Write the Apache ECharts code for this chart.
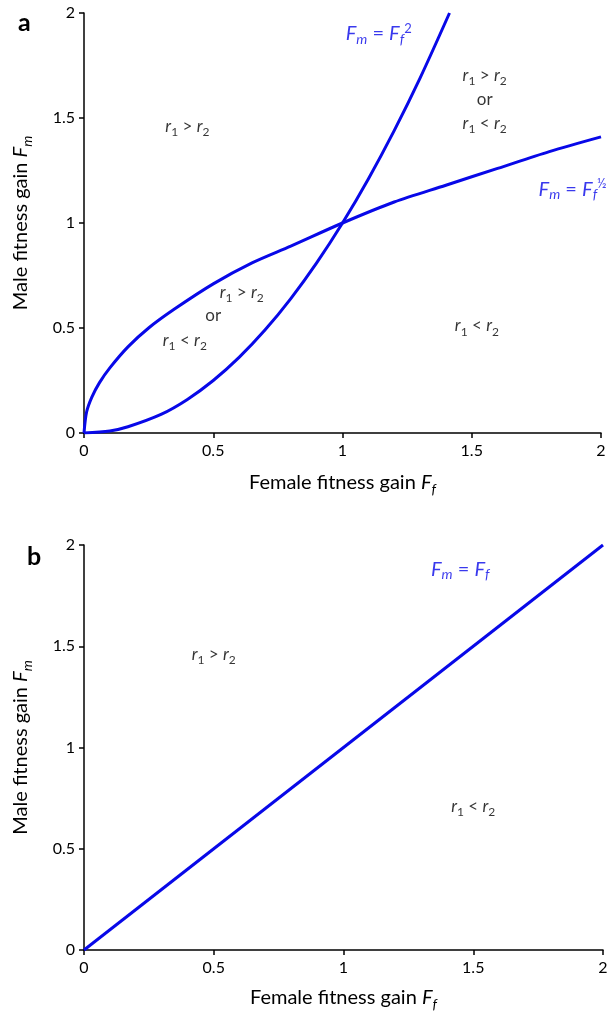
<!DOCTYPE html>
<html lang="en">
<head>
    <meta charset="UTF-8">
    <title>Fitness gain</title>
    <script src="https://cdn.jsdelivr.net/npm/echarts@6/dist/echarts.min.js"></script>
    <style>
        html, body { margin: 0; padding: 0; background: #fff; }
        #main { width: 615px; height: 1012px; }
    </style>
</head>
<body>
<div id="main"></div>
<script>
    // values
    let ticks = [0, 0.5, 1, 1.5, 2];

    // panel a: Fm = Ff^2
    let sqX = [0, 0.1, 0.17, 0.3, 0.4, 0.5, 0.6, 0.7, 0.8, 0.9, 1, 1.1, 1.2, 1.3, 1.414];
    let sqY = [0, 0.01, 0.03, 0.09, 0.16, 0.25, 0.36, 0.49, 0.64, 0.81, 1, 1.21, 1.44, 1.69, 2];

    // panel a: Fm = Ff^1/2
    let rtX = [0, 0.01, 0.03, 0.06, 0.1, 0.17, 0.25, 0.35, 0.5, 0.65, 0.8, 1, 1.2, 1.4, 1.6, 1.8, 2];
    let rtY = [0, 0.1, 0.17, 0.24, 0.31, 0.41, 0.5, 0.59, 0.71, 0.81, 0.89, 1, 1.1, 1.18, 1.26, 1.34, 1.41];

    // panel b: Fm = Ff
    let lnX = [0, 2];
    let lnY = [0, 2];

    // text pieces
    let gt = '{i|r}{s|1}{t| > }{i|r}{s|2}';
    let lt = '{i|r}{s|1}{t| < }{i|r}{s|2}';

    // annotations (data coordinates)
    let notesA = [
        [1.14, 1.9, '{fi|F}{fs|m}{ft| = }{fi|F}{fs|f}{fp|2}', 'blue'],
        [0.4, 1.46, gt, 'black'],
        [1.55, 1.59, gt + '\n{t|or}\n' + lt, 'black'],
        [1.89, 1.16, '{fi|F}{fs|m}{ft| = }{fi|F}{fs|f}{fp|½}', 'blue'],
        [0.61, 0.67, gt, 'black'],
        [0.5, 0.56, '{t|or}', 'black'],
        [0.39, 0.44, lt, 'black'],
        [1.52, 0.51, lt, 'black']
    ];
    let notesB = [
        [1.45, 1.88, '{fi|F}{fs|m}{ft| = }{fi|F}{fs|f}', 'blue'],
        [0.5, 1.46, gt, 'black'],
        [1.5, 0.71, lt, 'black']
    ];

    let font = 'Lato, "Open Sans", sans-serif';
    let blue = '#0808e8';

    let rich = {
        t: { fontSize: 17, fontFamily: font, color: '#000' },
        i: { fontStyle: 'italic', fontSize: 17, fontFamily: font, color: '#000' },
        s: { fontSize: 12, verticalAlign: 'bottom', fontFamily: font, color: '#000' },
        fi: { fontStyle: 'italic', fontSize: 20, fontFamily: font, color: blue },
        ft: { fontSize: 20, fontFamily: font, color: blue },
        fs: { fontStyle: 'italic', fontSize: 14, verticalAlign: 'bottom', fontFamily: font, color: blue },
        fp: { fontSize: 13, verticalAlign: 'top', fontFamily: font, color: blue },
        at: { fontSize: 20, fontFamily: font, color: '#000' },
        ai: { fontStyle: 'italic', fontSize: 20, fontFamily: font, color: '#000' },
        as: { fontStyle: 'italic', fontSize: 14, verticalAlign: 'bottom', fontFamily: font, color: '#000' }
    };

    function zip(xs, ys) {
        return xs.map(function (x, k) { return [x, ys[k]]; });
    }

    function xAxis(idx, gap) {
        return {
            type: 'value', gridIndex: idx, min: 0, max: 2, interval: 0.5,
            name: '{at|Female fitness gain }{ai|F}{as|f}',
            nameLocation: 'middle', nameGap: gap,
            nameTextStyle: { fontSize: 20, color: '#000', fontFamily: font, rich: rich, lineHeight: 26 },
            axisLine: { lineStyle: { color: '#000', width: 1.5 } },
            axisTick: { show: true, length: 5, lineStyle: { color: '#000', width: 1.5 } },
            axisLabel: { fontSize: 16, color: '#000', fontFamily: font, margin: 10,
                formatter: function (v) { return ticks.indexOf(v) >= 0 ? String(v) : ''; } },
            splitLine: { show: false }
        };
    }

    function yAxis(idx, gap) {
        return {
            type: 'value', gridIndex: idx, min: 0, max: 2, interval: 0.5,
            name: '{at|Male fitness gain }{ai|F}{as|m}',
            nameLocation: 'middle', nameGap: gap,
            nameTextStyle: { fontSize: 20, color: '#000', fontFamily: font, rich: rich, lineHeight: 26 },
            axisLine: { show: true, lineStyle: { color: '#000', width: 1.5 } },
            axisTick: { show: true, length: 5, lineStyle: { color: '#000', width: 1.5 } },
            axisLabel: { fontSize: 16, color: '#000', fontFamily: font, margin: 9 },
            splitLine: { show: false }
        };
    }

    function curve(xi, xs, ys) {
        return {
            type: 'line', xAxisIndex: xi, yAxisIndex: xi,
            data: zip(xs, ys), smooth: 0.3, showSymbol: false, silent: true,
            lineStyle: { color: blue, width: 3 }
        };
    }

    function notes(xi, list) {
        return {
            type: 'scatter', xAxisIndex: xi, yAxisIndex: xi, symbolSize: 0, silent: true,
            data: list.map(function (n) {
                return {
                    value: [n[0], n[1]],
                    label: {
                        show: true, position: 'inside', formatter: n[2],
                        color: n[3] === 'blue' ? blue : '#000',
                        fontSize: 17, fontFamily: font, lineHeight: 24, align: 'center',
                        rich: rich
                    }
                };
            })
        };
    }

    let myChart = echarts.init(document.getElementById('main'), null, { renderer: 'canvas' });
    let option = {
        backgroundColor: '#fff',
        animation: false,
        title: [
            { text: 'a', left: 13, top: 5, textStyle: { fontSize: 25, fontWeight: 'bold', fontFamily: font, color: '#000' } },
            { text: 'b', left: 22, top: 539, textStyle: { fontSize: 25, fontWeight: 'bold', fontFamily: font, color: '#000' } }
        ],
        grid: [
            { left: 77, right: 14, top: 13, height: 420 },
            { left: 84, right: 12, top: 545, height: 405 }
        ],
        xAxis: [xAxis(0, 37), xAxis(1, 35)],
        yAxis: [yAxis(0, 50), yAxis(1, 50)],
        series: [
            curve(0, sqX, sqY),
            curve(0, rtX, rtY),
            curve(1, lnX, lnY),
            notes(0, notesA),
            notes(1, notesB)
        ]
    };
    myChart.setOption(option);
</script>
</body>
</html>
